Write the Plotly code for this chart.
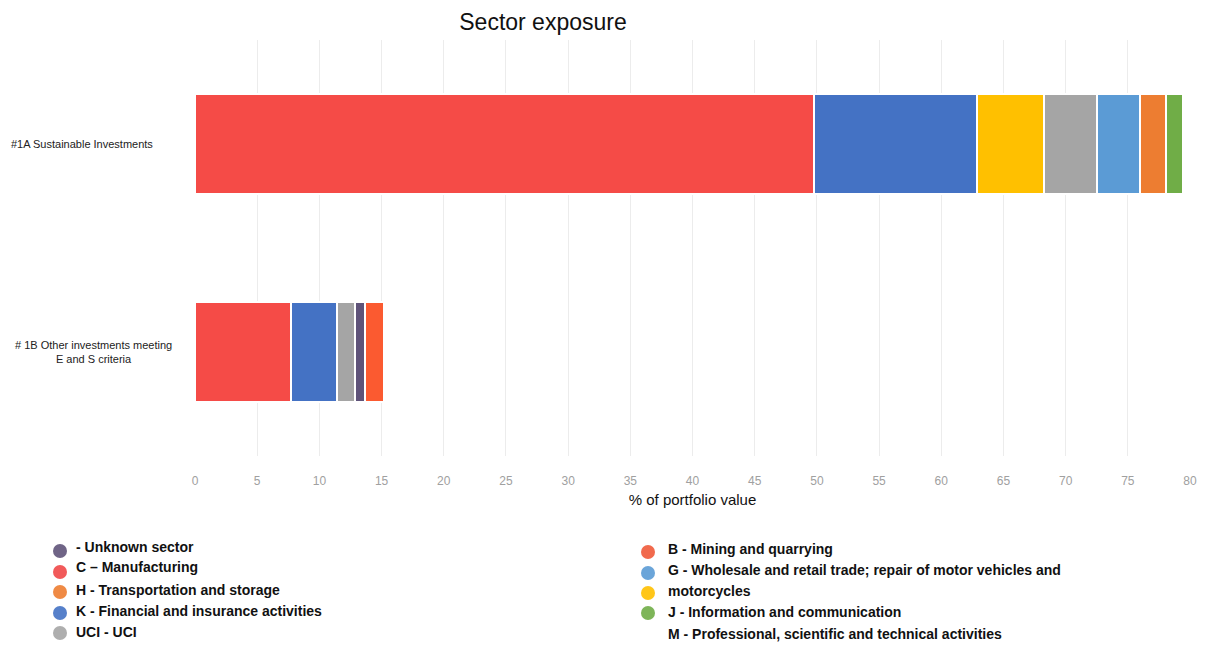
import plotly.graph_objects as go

categories = ["#1A Sustainable Investments", "# 1B Other investments meeting<br>E and S criteria"]

sector_names = [
    "C – Manufacturing",
    "K - Financial and insurance activities",
    "M - Professional, scientific and technical activities",
    "UCI - UCI",
    "G - Wholesale and retail trade; repair of motor vehicles and motorcycles",
    "H - Transportation and storage",
    "J - Information and communication",
    "- Unknown sector",
    "B - Mining and quarrying",
]
sector_values = [
    [49.8, 7.7],
    [13.1, 3.75],
    [5.4, 0],
    [4.2, 1.45],
    [3.5, 0],
    [2.1, 0],
    [1.3, 0],
    [0, 0.8],
    [0, 1.5],
]
sector_colors = ["#f54b47", "#4472c4", "#ffc000", "#a5a5a5", "#5b9bd5",
                 "#ed7d31", "#70ad47", "#5f5379", "#fb5a30"]

x_ticks = list(range(0, 81, 5))

legend_left = ["- Unknown sector", "C – Manufacturing", "H - Transportation and storage",
               "K - Financial and insurance activities", "UCI - UCI"]
legend_left_colors = ["#5f5379", "#f04848", "#ed7d31", "#4472c4", "#a5a5a5"]
legend_right = ["B - Mining and quarrying",
                "G - Wholesale and retail trade; repair of motor vehicles and",
                "motorcycles", "J - Information and communication",
                "M - Professional, scientific and technical activities"]
legend_right_colors = ["#f05a3a", "#5b9bd5", "#ffc000", "#70ad47", None]

W, H = 1219, 646
L, R, T, B = 195, 29, 40, 190
pw, ph = W - L - R, H - T - B


def px(x):
    return (x - L) / pw


def py(y):
    return (H - B - y) / ph


fig = go.Figure()
for name, vals, col in zip(sector_names, sector_values, sector_colors):
    fig.add_trace(go.Bar(
        y=categories, x=vals, name=name, orientation="h",
        marker=dict(color=col, line=dict(color="white", width=2)),
        showlegend=False,
    ))

annotations = []
shapes = []
label_centers = [82, 93]
for cat, cx in zip(categories, label_centers):
    annotations.append(dict(x=px(cx), y=cat, xref="paper", yref="y", text=cat,
                            showarrow=False, xanchor="center", yanchor="middle",
                            align="center",
                            font=dict(family="Liberation Sans, Arial", size=11, color="#222")))

left_text_y = [547, 567, 590, 611, 632]
left_mark_y = [551, 572, 592, 613, 633]
for t, ty in zip(legend_left, left_text_y):
    annotations.append(dict(x=px(74), y=py(ty), xref="paper", yref="paper", text="<b>%s</b>" % t,
                            showarrow=False, xanchor="left", yanchor="middle",
                            font=dict(family="Liberation Sans, Arial", size=14, color="#111")))
for c, my in zip(legend_left_colors, left_mark_y):
    shapes.append(dict(type="circle", xref="paper", yref="paper", xsizemode="pixel", ysizemode="pixel",
                       xanchor=px(60), yanchor=py(my), x0=-7, x1=7, y0=-7, y1=7,
                       fillcolor=c, line=dict(width=0), opacity=0.9))
right_text_y = [549, 570, 591, 612, 634]
right_mark_y = [552, 573, 593, 613]
for t, ty in zip(legend_right, right_text_y):
    annotations.append(dict(x=px(666), y=py(ty), xref="paper", yref="paper", text="<b>%s</b>" % t,
                            showarrow=False, xanchor="left", yanchor="middle",
                            font=dict(family="Liberation Sans, Arial", size=14, color="#111")))
for c, my in zip(legend_right_colors, right_mark_y):
    shapes.append(dict(type="circle", xref="paper", yref="paper", xsizemode="pixel", ysizemode="pixel",
                       xanchor=px(648), yanchor=py(my), x0=-7, x1=7, y0=-7, y1=7,
                       fillcolor=c, line=dict(width=0), opacity=0.9))

fig.update_layout(
    width=W, height=H,
    margin=dict(l=L, r=R, t=T, b=B),
    barmode="stack",
    bargap=0.52,
    paper_bgcolor="white", plot_bgcolor="white",
    title=dict(text="Sector exposure", x=px(543), xref="paper", xanchor="center",
               y=1 - 22 / H, yanchor="middle",
               font=dict(family="Liberation Sans, Arial", size=23, color="#111")),
    xaxis=dict(range=[0, 80], tickvals=x_ticks, ticktext=[str(v) for v in x_ticks],
               showgrid=True, gridcolor="#ececec", gridwidth=1, zeroline=False,
               tickfont=dict(family="Liberation Sans, Arial", size=12, color="#a0a0a0"),
               ticks="", ticklabelstandoff=16,
               title=dict(text="% of portfolio value", standoff=7,
                          font=dict(family="Liberation Sans, Arial", size=15, color="#111")),
               showline=False),
    yaxis=dict(categoryorder="array", categoryarray=categories, autorange="reversed",
               showticklabels=False, showgrid=False, zeroline=False, showline=False),
    annotations=annotations,
    shapes=shapes,
)

fig.write_html("out.html", config={"displayModeBar": False},
               post_script="document.body.style.margin='0';document.body.style.overflow='hidden';")
